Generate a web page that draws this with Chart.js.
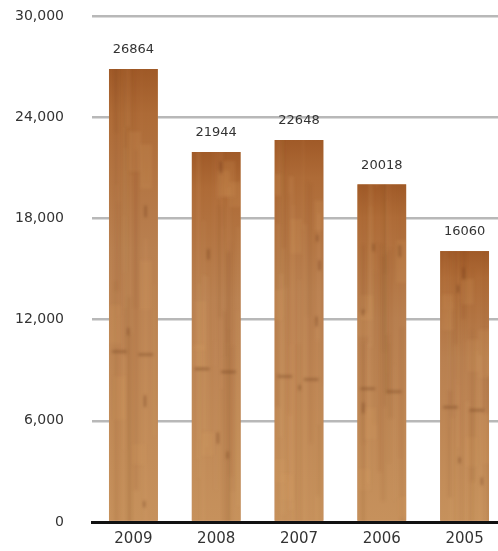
<!DOCTYPE html>
<html>
<head>
<meta charset="utf-8">
<script src="https://cdn.jsdelivr.net/npm/chart.js@4/dist/chart.umd.min.js"></script>
<style>
  html, body { margin: 0; padding: 0; background: #fff; overflow: hidden; }
  canvas { display: block; }
</style>
</head>
<body>
<canvas id="chart" width="506" height="551"></canvas>
<script>
const years = ["2009", "2008", "2007", "2006", "2005"];
const totals = [26864, 21944, 22648, 20018, 16060];
const yTicks = [0, 6000, 12000, 18000, 24000, 30000];

const FONT = "'DejaVu Sans', sans-serif";

// small seeded generator so the wood grain looks the same every render
const grainRng = (seed) => () => {
  seed = (seed + 0x6d2b79f5) | 0;
  let t = Math.imul(seed ^ (seed >>> 15), 1 | seed);
  t = (t + Math.imul(t ^ (t >>> 7), 61 | t)) ^ t;
  return ((t ^ (t >>> 14)) >>> 0) / 4294967296;
};

const woodPlugin = {
  id: "wood",
  afterDatasetsDraw(chart) {
    const ctx = chart.ctx;
    const meta = chart.getDatasetMeta(0);
    meta.data.forEach((bar, i) => {
      const left = bar.x - bar.width / 2;
      const top = bar.y;
      const h = bar.base - bar.y;
      const w = bar.width;
      const rnd = grainRng(i * 97 + 13);
      ctx.save();
      ctx.beginPath();
      ctx.rect(left, top, w, h);
      ctx.clip();

      const g = ctx.createLinearGradient(0, top, 0, bar.base);
      g.addColorStop(0, "#a05a28");
      g.addColorStop(0.1, "#ae6b37");
      g.addColorStop(0.4, "#b98050");
      g.addColorStop(1, "#c6915c");
      ctx.fillStyle = g;
      ctx.fillRect(left, top, w, h);

      // soft grain
      ctx.filter = "blur(1.5px)";
      for (let k = 0; k < 22; k++) {
        const x = left + rnd() * w;
        const dark = rnd() < 0.55;
        ctx.fillStyle = dark
          ? "rgba(120,60,20," + (0.03 + rnd() * 0.07) + ")"
          : "rgba(225,175,120," + (0.04 + rnd() * 0.08) + ")";
        const y0 = top + rnd() * h;
        ctx.fillRect(x, y0 - h * 0.4, 2 + rnd() * 3, h * (0.3 + rnd() * 0.6));
      }
      // blotches
      for (let k = 0; k < 6; k++) {
        const x = left + rnd() * w;
        const y = top + rnd() * h;
        ctx.fillStyle = "rgba(215,160,100,0.16)";
        ctx.fillRect(x - 6, y, 12, 20 + rnd() * 30);
      }
      // knots and short cross marks
      for (let k = 0; k < 4; k++) {
        const x = left + 4 + rnd() * (w - 8);
        const y = top + rnd() * h;
        ctx.fillStyle = "rgba(95,45,15,0.4)";
        ctx.fillRect(x, y, 2, 5 + rnd() * 8);
      }
      const mark = top + h * (0.5 + rnd() * 0.2);
      ctx.fillStyle = "rgba(100,50,20,0.45)";
      ctx.fillRect(left + 3, mark, w * 0.3, 2);
      ctx.fillRect(left + w * 0.6, mark + 3, w * 0.3, 2);
      ctx.filter = "none";
      ctx.restore();
    });
  }
};

const valueLabels = {
  id: "valueLabels",
  afterDatasetsDraw(chart) {
    const ctx = chart.ctx;
    const meta = chart.getDatasetMeta(0);
    ctx.save();
    ctx.font = "13px " + FONT;
    ctx.fillStyle = "#333";
    ctx.textAlign = "center";
    ctx.textBaseline = "middle";
    meta.data.forEach((bar, i) => {
      ctx.fillText(String(totals[i]), bar.x, bar.y - 19);
    });
    ctx.restore();
  }
};

new Chart(document.getElementById("chart"), {
  type: "bar",
  data: {
    labels: years,
    datasets: [{
      data: totals,
      backgroundColor: "#bb8150",
      borderWidth: 0,
      barPercentage: 0.59,
      categoryPercentage: 1
    }]
  },
  options: {
    responsive: false,
    animation: false,
    layout: { padding: { top: 16, right: 0, bottom: 0, left: 0 } },
    plugins: {
      legend: { display: false },
      tooltip: { enabled: false }
    },
    scales: {
      x: {
        grid: { display: false, drawTicks: false },
        border: { display: true, color: "#111", width: 3 },
        ticks: { color: "#333", font: { family: FONT, size: 15 }, padding: 8 },
        afterFit(scale) { scale.height = 29; }
      },
      y: {
        min: 0,
        max: 30000,
        afterBuildTicks(scale) { scale.ticks = yTicks.map(v => ({ value: v })); },
        // invisible tick marks make the gap between labels and plot
        grid: { color: "#b8b8b8", lineWidth: 2.5, drawTicks: true, tickLength: 28, tickColor: "rgba(0,0,0,0)" },
        border: { display: false },
        ticks: {
          color: "#333",
          font: { family: FONT, size: 14 },
          padding: 0,
          callback: v => v.toLocaleString("en-US")
        },
        afterFit(scale) { scale.width = 92; }
      }
    }
  },
  plugins: [woodPlugin, valueLabels]
});
</script>
</body>
</html>
